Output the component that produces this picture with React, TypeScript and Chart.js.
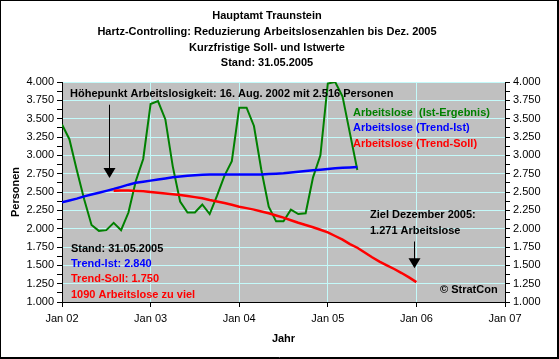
import React, { useEffect, useRef } from 'react';
import { Chart, registerables } from 'chart.js';

Chart.register(...registerables);

const titleLines = [
  'Hauptamt Traunstein',
  'Hartz-Controlling: Reduzierung Arbeitslosenzahlen bis Dez. 2005',
  'Kurzfristige Soll- und Istwerte',
  'Stand: 31.05.2005',
];

const startYear = 2002;
const yearTicks = [2002, 2003, 2004, 2005, 2006, 2007];

// monthly values starting Jan 2002
const istValues = [
  3420, 3220, 2800, 2400, 2050, 1970, 1980, 2080, 1980, 2220, 2650, 2950,
  3700, 3740, 3490, 2850, 2370, 2220, 2220, 2330, 2200, 2450, 2720, 2920,
  3650, 3650, 3400, 2800, 2300, 2100, 2100, 2260, 2200, 2210, 2700, 3000,
  3980, 4000, 3800, 3300, 2800,
];

const trendIstValues = [
  2360, 2385, 2410, 2440, 2465, 2490, 2515, 2540, 2570, 2600, 2625, 2640,
  2655, 2670, 2685, 2700, 2710, 2720, 2730, 2735, 2740, 2740, 2740, 2740,
  2740, 2740, 2740, 2740, 2745, 2750, 2755, 2765, 2775, 2785, 2795, 2805,
  2815, 2825, 2830, 2835, 2840,
];

// monthly values starting Aug 2002 (month index 7) until Jan 2006
const trendSollStartMonth = 7;
const trendSollValues = [
  2516, 2520, 2520, 2515, 2510, 2500, 2490, 2480, 2470, 2460, 2445, 2430,
  2415, 2390, 2370, 2350, 2325, 2300, 2280, 2260, 2235, 2210, 2180, 2150,
  2115, 2080, 2050, 2020, 1985, 1950, 1900, 1850, 1790, 1740, 1675, 1610,
  1550, 1500, 1450, 1395, 1335, 1271,
];

const seriesLabels = ['Arbeitslose  (Ist-Ergebnis)', 'Arbeitslose (Trend-Ist)', 'Arbeitslose (Trend-Soll)'];
const infoLines = ['Stand: 31.05.2005', 'Trend-Ist: 2.840', 'Trend-Soll: 1.750', '1090 Arbeitslose zu viel'];
const peakText = 'Höhepunkt Arbeitslosigkeit: 16. Aug. 2002 mit 2.516 Personen';
const goalLines = ['Ziel Dezember 2005:', '1.271 Arbeitslose'];
const copyright = '© StratCon';

const FONT = 'Arial, "Liberation Sans", sans-serif';
const GREEN = '#008000';
const BLUE = '#0000FF';
const RED = '#FF0000';
const GRID = '#C4FAFA';

const fmt = (v: number) => String(Math.round(v)).replace(/\B(?=(\d{3})+(?!\d))/g, '.');

const toPoints = (vals: number[], startMonth: number) =>
  vals.map((v, i) => ({ x: startYear + (startMonth + i) / 12, y: v }));

const decorPlugin = {
  id: 'decor',
  beforeDraw(chart: any) {
    const { ctx, chartArea: a, width, height } = chart;
    ctx.save();
    ctx.fillStyle = '#ffffff';
    ctx.fillRect(0, 0, width, height);
    ctx.fillStyle = '#C0C0C0';
    ctx.fillRect(a.left, a.top, a.right - a.left, a.bottom - a.top);
    ctx.restore();
  },
  afterDraw(chart: any) {
    const { ctx, width, height } = chart;
    const xs = chart.scales.x;
    const ys = chart.scales.y;
    ctx.save();
    ctx.textBaseline = 'middle';
    ctx.font = `bold 11px ${FONT}`;

    // titles
    ctx.fillStyle = '#000';
    ctx.textAlign = 'center';
    titleLines.forEach((t, i) => ctx.fillText(t, 267, 16 + i * 15.8));

    ctx.textAlign = 'left';
    // peak annotation
    ctx.fillStyle = '#000';
    ctx.fillText(peakText, 70, 94);

    // legend
    const legColors = [GREEN, BLUE, RED];
    seriesLabels.forEach((t, i) => {
      ctx.fillStyle = legColors[i];
      ctx.fillText(t, 353, 113 + i * 15.3);
    });

    // info
    const infoColors = ['#000', BLUE, RED, RED];
    infoLines.forEach((t, i) => {
      ctx.fillStyle = infoColors[i];
      ctx.fillText(t, 71, 249 + i * 15.2);
    });

    // goal
    ctx.fillStyle = '#000';
    goalLines.forEach((t, i) => ctx.fillText(t, 370, 215 + i * 15.5));
    ctx.fillText(copyright, 440, 290);

    // arrows
    const arrow = (xv: number, y0: number, y1: number) => {
      const x = Math.round(xs.getPixelForValue(xv)) + 0.5;
      const p0 = ys.getPixelForValue(y0);
      const p1 = ys.getPixelForValue(y1);
      ctx.strokeStyle = '#000';
      ctx.lineWidth = 1;
      ctx.beginPath();
      ctx.moveTo(x, p0);
      ctx.lineTo(x, p1 - 8);
      ctx.stroke();
      ctx.fillStyle = '#000';
      ctx.beginPath();
      ctx.moveTo(x - 6, p1 - 10);
      ctx.lineTo(x + 6, p1 - 10);
      ctx.lineTo(x, p1);
      ctx.closePath();
      ctx.fill();
    };
    arrow(2002.525, 3690, 2690);
    arrow(2005.975, 1825, 1460);

    // border
    ctx.strokeStyle = '#000';
    ctx.lineWidth = 1;
    ctx.strokeRect(0.5, 0.5, width - 1, height - 1);
    ctx.beginPath();
    ctx.moveTo(width - 1.5, 0);
    ctx.lineTo(width - 1.5, height);
    ctx.moveTo(0, height - 1.5);
    ctx.lineTo(width, height - 1.5);
    ctx.stroke();
    ctx.restore();
  },
};

export default function App() {
  const ref = useRef<HTMLCanvasElement | null>(null);

  useEffect(() => {
    document.body.style.margin = '0';
    const canvas = ref.current;
    if (!canvas) return;
    const yTicks = {
      stepSize: 125,
      autoSkip: false,
      color: '#000',
      padding: 3,
      font: { family: FONT, size: 11 },
      callback: (v: any) => (Number(v) % 250 === 0 ? fmt(Number(v)) : ''),
    };
    const chart = new Chart(canvas, {
      type: 'line',
      data: {
        datasets: [
          {
            label: seriesLabels[0],
            data: toPoints(istValues, 0),
            borderColor: GREEN,
            borderWidth: 2,
            pointRadius: 0,
            tension: 0,
            order: 3,
          },
          {
            label: seriesLabels[1],
            data: toPoints(trendIstValues, 0),
            borderColor: BLUE,
            borderWidth: 2.5,
            pointRadius: 0,
            tension: 0,
            order: 2,
          },
          {
            label: seriesLabels[2],
            data: toPoints(trendSollValues, trendSollStartMonth),
            borderColor: RED,
            borderWidth: 2.5,
            pointRadius: 0,
            tension: 0,
            order: 1,
          },
        ],
      },
      options: {
        responsive: false,
        animation: false,
        devicePixelRatio: 1,
        layout: { padding: { top: 82, left: 0, right: 0, bottom: 0 } },
        plugins: {
          legend: { display: false },
          title: { display: false },
          tooltip: { enabled: false },
        },
        scales: {
          x: {
            type: 'linear',
            min: yearTicks[0],
            max: yearTicks[yearTicks.length - 1],
            afterBuildTicks: (s: any) => {
              s.ticks = yearTicks.map((v) => ({ value: v }));
            },
            afterFit: (s: any) => {
              s.height = 57;
            },
            ticks: {
              color: '#000',
              padding: 5,
              maxRotation: 0,
              font: { family: FONT, size: 11 },
              callback: (v: any) => 'Jan ' + String(v).slice(2),
            },
            grid: { color: GRID, tickColor: '#000', tickLength: 5, lineWidth: 1 },
            border: { color: '#000', width: 1 },
            title: {
              display: true,
              text: 'Jahr',
              color: '#000',
              font: { family: FONT, size: 11, weight: 'bold' },
              padding: { top: 0, bottom: 13 },
            },
          },
          y: {
            position: 'left',
            min: 1000,
            max: 4000,
            afterFit: (s: any) => {
              s.width = 62;
            },
            ticks: yTicks,
            grid: {
              color: (c: any) => (c.tick && c.tick.value % 250 === 0 ? GRID : 'rgba(0,0,0,0)'),
              tickColor: '#000',
              tickLength: 5,
            },
            border: { color: '#000', width: 1 },
            title: {
              display: true,
              text: 'Personen',
              color: '#000',
              font: { family: FONT, size: 11, weight: 'bold' },
              padding: { top: 9, bottom: 0 },
            },
          },
          y2: {
            position: 'right',
            min: 1000,
            max: 4000,
            afterFit: (s: any) => {
              s.width = 54;
            },
            ticks: yTicks,
            grid: { drawOnChartArea: false, tickColor: '#000', tickLength: 5 },
            border: { color: '#000', width: 1 },
          },
        },
      } as any,
      plugins: [decorPlugin],
    });
    return () => chart.destroy();
  }, []);

  return <canvas ref={ref} width={559} height={359} style={{ display: 'block' }} />;
}
